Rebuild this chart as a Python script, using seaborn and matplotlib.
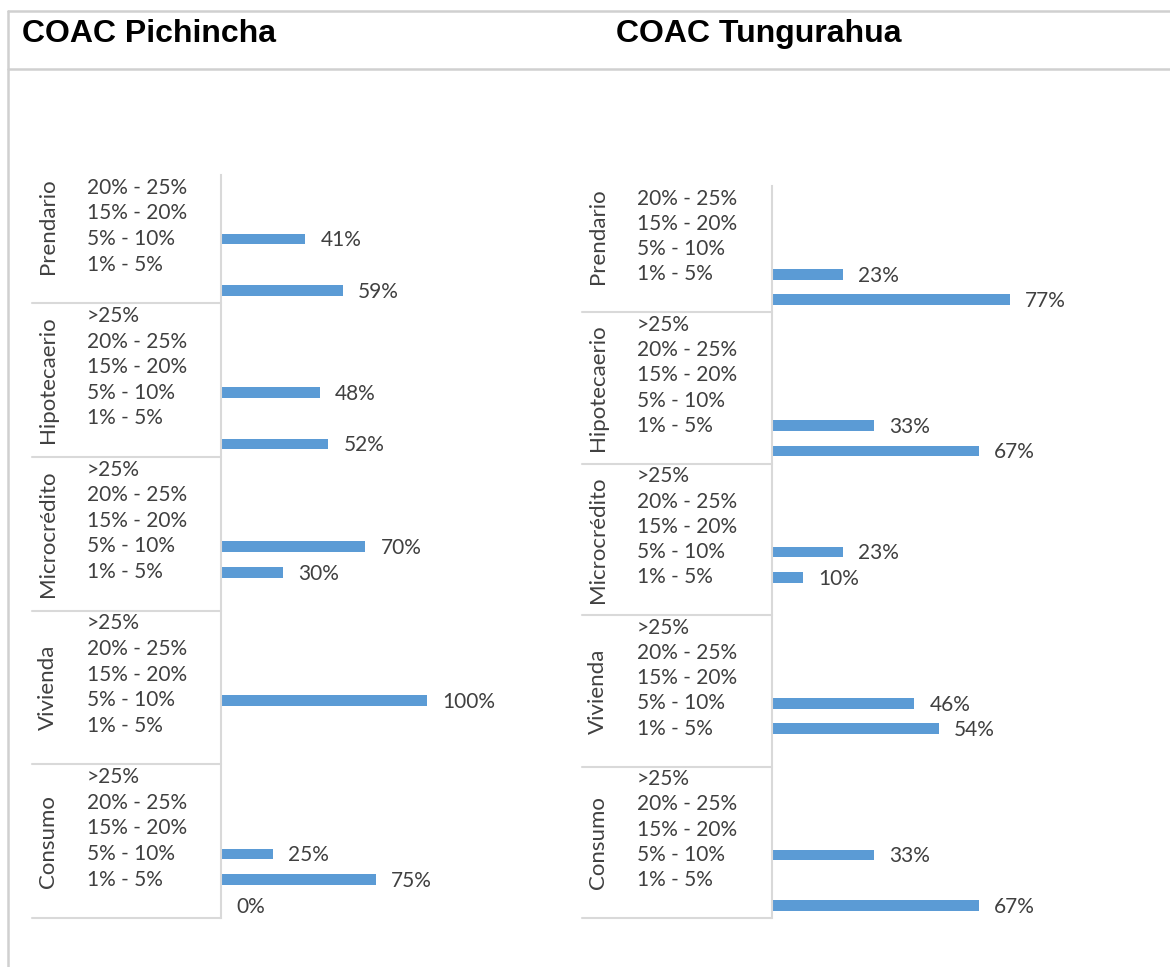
import numpy as np
import pandas as pd
import matplotlib.pyplot as plt
import seaborn as sns

# ------------------------------------------------------------
# Data (percent of loans by interest-rate range, per credit type)
# ------------------------------------------------------------
grupos = ["Prendario", "Hipotecaerio", "Microcrédito", "Vivienda", "Consumo"]
rangos = [">25%", "20% - 25%", "15% - 20%", "5% - 10%", "1% - 5%", ""]

# values top -> bottom following rangos (None = no bar)
# Prendario has no ">25%" row shown (cut off in the original)
pichincha_vals = [
    [None, None, 41, None, 59],
    [None, None, None, 48, None, 52],
    [None, None, None, 70, 30, None],
    [None, None, None, 100, None, None],
    [None, None, None, 25, 75, 0],
]
tungurahua_vals = [
    [None, None, None, 23, 77],
    [None, None, None, None, 33, 67],
    [None, None, None, 23, 10, None],
    [None, None, None, 46, 54, None],
    [None, None, None, 33, None, 67],
]
titulos = ["COAC Pichincha", "COAC Tungurahua"]

W, H = 1170, 967
BLUE = "#5B9BD5"
GRID = "#D9D9D9"
TXT = "#404040"
FONT = "Lato"

sns.set_theme(style="white")
plt.rcParams["font.family"] = [FONT, "DejaVu Sans"]

fig = plt.figure(figsize=(W / 100, H / 100), dpi=100)


def fx(px):
    return px / W


def fy(py):
    return 1 - py / H


def build_df(vals):
    rows = []
    for g, gv in zip(grupos, vals):
        labs = rangos[-len(gv):]
        for r, v in zip(labs, gv):
            rows.append({"key": f"{g}|{r}|{len(rows)}", "grupo": g, "rango": r, "valor": v})
    return pd.DataFrame(rows)


def panel(vals, ax_left, ax_top, ax_right, px_per_pct, name_x, lab_x, line_x0):
    df = build_df(vals)
    n = len(df)
    bottom = 918
    ax = fig.add_axes([fx(ax_left), fy(bottom), fx(ax_right - ax_left), (bottom - ax_top) / H])
    df["plot"] = df["valor"].astype(float).fillna(0)
    sns.barplot(data=df, y="key", x="plot", orient="h", order=list(df["key"]),
                color=BLUE, width=0.42, linewidth=0, errorbar=None, ax=ax, saturation=1)
    ax.set_xlim(0, (ax_right - ax_left) / px_per_pct)
    ax.set_ylim(n - 0.5, -0.5)
    ax.set_xlabel("")
    ax.set_ylabel("")
    ax.set_xticks([])
    ax.set_yticks([])
    for s in ["top", "right", "bottom"]:
        ax.spines[s].set_visible(False)
    ax.spines["left"].set_color(GRID)
    ax.spines["left"].set_linewidth(1.5)

    axw = ax_right - ax_left
    tr = ax.get_yaxis_transform()

    # data labels
    for i, v in enumerate(df["valor"]):
        if v is None or pd.isna(v):
            continue
        ax.annotate(f"{int(v)}%", xy=(v, i), xytext=(11, -1), textcoords="offset points",
                    ha="left", va="center", fontsize=15, color=TXT)

    # range labels
    for i, r in enumerate(df["rango"]):
        ax.text((lab_x - ax_left) / axw, i, r, transform=tr, ha="left", va="center",
                fontsize=15, color=TXT, clip_on=False)

    # group names and separators
    start = 0
    for g, gv in zip(grupos, vals):
        end = start + len(gv)
        centre = (end - 6 + end - 1) / 2
        ax.text((name_x - ax_left) / axw, centre, g, transform=tr, rotation=90,
                ha="center", va="center", fontsize=16, color=TXT, clip_on=False)
        ax.plot([(line_x0 - ax_left) / axw, 0], [end - 0.5, end - 0.5], transform=tr,
                color=GRID, lw=1.5, clip_on=False)
        start = end
    return ax


panel(pichincha_vals, 221, 175, 560, 2.06, 48, 87, 32)
panel(tungurahua_vals, 772, 186, 1160, 3.09, 598, 637, 582)

# titles and cell borders
fig.text(fx(22), fy(34), titulos[0], fontsize=23, fontweight="bold",
         family="Liberation Sans", ha="left", va="center", color="black")
fig.text(fx(616), fy(34), titulos[1], fontsize=23, fontweight="bold",
         family="Liberation Sans", ha="left", va="center", color="black")
for y in [11, 69]:
    fig.add_artist(plt.Line2D([fx(8), 1], [fy(y), fy(y)], color="#D0D0D0", lw=1.8))
fig.add_artist(plt.Line2D([fx(8), fx(8)], [fy(11), 0], color="#D0D0D0", lw=1.8))

fig.savefig("out.png", dpi=100)
